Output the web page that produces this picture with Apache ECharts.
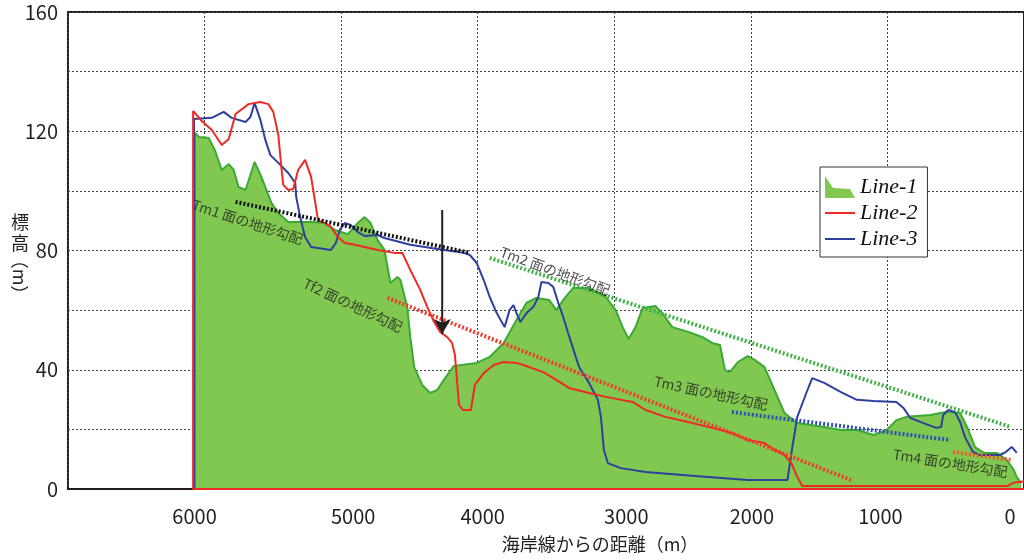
<!DOCTYPE html>
<html><head><meta charset="utf-8">
<script src="https://cdn.jsdelivr.net/npm/echarts@6/dist/echarts.min.js"></script>
<style>html,body{margin:0;padding:0;background:#fff}#c{width:1024px;height:560px}</style>
</head><body><div id="c"></div>
<script>
// ---- data (distance from coastline in m, elevation in m) ----
const xTicks = [6000, 5000, 4000, 3000, 2000, 1000, 0];
const yTicks = [0, 40, 80, 120, 160];
const seriesNames = ['Line-1', 'Line-2', 'Line-3'];

const line1 = [[6070,0],[6070,119.4],[6041,118.1],[5969,117.7],[5925,113.7],[5874,107.0],[5823,109.0],[5787,107.0],[5751,101.3],[5700,100.3],[5634,109.7],[5584,104.7],[5510,95.9],[5460,92.6],[5387,89.6],[5220,89.6],[5119,89.2],[5046,86.9],[4951,85.5],[4879,89.2],[4828,91.2],[4784,89.2],[4733,83.5],[4683,80.2],[4639,69.1],[4588,71.1],[4566,70.1],[4516,61.1],[4494,51.0],[4465,40.9],[4406,34.9],[4348,32.2],[4297,33.2],[4239,37.2],[4174,41.3],[4007,42.3],[3912,44.3],[3810,49.0],[3716,56.7],[3643,62.4],[3571,64.1],[3476,63.4],[3425,60.0],[3374,63.4],[3302,67.4],[3185,67.4],[3062,64.4],[2990,60.0],[2939,54.3],[2895,50.3],[2844,54.3],[2793,60.7],[2699,61.4],[2648,59.0],[2575,54.3],[2459,52.7],[2357,51.0],[2284,49.0],[2226,48.3],[2190,39.9],[2154,39.2],[2095,42.6],[2023,44.6],[1972,43.3],[1900,40.9],[1827,33.2],[1754,25.5],[1660,22.1],[1463,20.8],[1340,19.8],[1224,19.8],[1100,18.1],[1006,19.8],[934,23.1],[861,24.2],[687,24.8],[570,25.8],[468,25.5],[417,20.8],[359,14.1],[294,12.1],[199,12.1],[126,9.7],[75,6.4],[53,4.0],[20,2.0]];

const line2 = [[0,0],[6084,0],[6084,126.8],[6020,123.4],[5947,120.4],[5874,115.4],[5823,117.4],[5773,125.8],[5678,129.1],[5591,129.8],[5533,129.1],[5497,126.5],[5460,118.8],[5438,108.0],[5424,102.0],[5387,100.3],[5351,100.6],[5315,107.0],[5264,110.4],[5220,104.7],[5169,90.2],[5119,89.2],[5075,87.9],[5024,84.5],[4973,82.5],[4900,81.9],[4733,80.2],[4610,79.2],[4552,79.2],[4494,73.5],[4421,66.8],[4370,61.1],[4319,56.0],[4275,52.7],[4225,51.0],[4188,49.0],[4167,45.0],[4152,36.6],[4137,28.2],[4108,26.5],[4050,26.5],[4021,34.9],[3956,38.9],[3883,41.6],[3810,42.6],[3716,42.3],[3622,40.9],[3520,39.2],[3425,36.6],[3331,33.9],[3185,32.2],[3062,30.9],[2866,29.2],[2771,26.5],[2626,24.2],[2459,22.5],[2284,20.5],[2139,18.8],[2023,16.4],[1900,15.4],[1827,13.1],[1754,11.4],[1703,8.7],[1660,4.0],[1623,1.0],[119,1.0],[83,2.0],[53,2.3],[0,2.5]];

const line3 = [[6077,0],[6077,124.1],[5947,124.5],[5860,126.5],[5802,124.5],[5700,123.1],[5664,124.8],[5634,129.5],[5591,123.8],[5555,117.1],[5518,112.0],[5460,109.4],[5387,106.0],[5336,102.7],[5329,98.0],[5300,91.2],[5264,84.5],[5220,81.2],[5075,80.2],[5039,82.5],[5010,86.9],[4973,89.2],[4930,88.6],[4879,86.2],[4828,84.9],[4733,85.2],[4683,84.2],[4494,81.9],[4247,80.2],[4101,79.2],[4058,78.5],[4007,75.8],[3956,70.1],[3912,64.4],[3861,59.0],[3803,54.3],[3767,60.0],[3738,61.7],[3716,59.0],[3687,56.0],[3643,59.0],[3592,61.1],[3556,64.4],[3534,69.4],[3483,69.1],[3447,67.8],[3410,62.4],[3374,57.7],[3338,52.3],[3258,40.9],[3185,35.6],[3120,29.9],[3098,24.2],[3076,13.1],[3047,8.7],[2952,7.0],[2771,5.7],[2408,4.4],[2023,3.0],[1732,3.0],[1696,14.1],[1660,24.2],[1594,32.2],[1551,37.2],[1463,35.6],[1340,32.5],[1224,29.9],[1100,29.5],[934,29.2],[883,27.2],[832,23.8],[760,22.5],[643,20.5],[607,20.8],[592,24.8],[555,26.5],[505,25.8],[468,22.5],[432,17.4],[374,12.4],[323,11.4],[177,11.4],[134,12.4],[90,14.1],[53,12.1]];

// slope (gradient) guide lines
const tm1Line = [[5773,96.3],[4058,79.2]];
const tm2Line = [[3912,77.5],[96,20.8]];
const tf2Line = [[4660,64.1],[1267,3.0]];
const tm3Line = [[2139,25.8],[540,16.4]];
const tm4Line = [[519,12.4],[83,9.7]];
const arrowLine = [[4260,93.6],[4260,52.0]];

// annotation labels
const noteTexts = ['Tm1 面の地形勾配','Tm2 面の地形勾配','Tf2 面の地形勾配','Tm3 面の地形勾配','Tm4 面の地形勾配'];
const notePoints = [[5685,89.6],[3433,73.1],[4915,61.7],[2292,32.2],[540,8.7]];

// ---- styles ----
const FONT = '"Noto Sans CJK JP","Noto Sans",sans-serif';
const INK = '#231f20';
const noteRotate = [-18, -20, -25, -12, -9];
const xLabelShift = {6000:-10, 5000:12, 4000:5, 3000:12, 2000:1, 1000:-7, 0:-14};

const rich = {};
xTicks.forEach(v => {
  const s = xLabelShift[v] || 0;
  rich['t' + v] = {
    fontSize: 20, fontFamily: FONT, color: INK,
    padding: s >= 0 ? [0, 0, 0, 2 * s] : [0, -2 * s, 0, 0]
  };
});

function guide(data, color) {
  return {
    type: 'line', data: data, symbol: 'none', silent: true, z: 4,
    lineStyle: { color: color, width: 4, type: [2, 2] }
  };
}

const chart = echarts.init(document.getElementById('c'), null, { renderer: 'canvas' });
chart.setOption({
  animation: false,
  backgroundColor: '#fff',
  grid: { left: 68, top: 12, right: -7, bottom: 71, show: true, borderColor: INK, borderWidth: 2, backgroundColor: 'transparent' },
  xAxis: {
    type: 'value', min: 0, max: 7000, interval: 1000, inverse: true,
    axisLine: { show: true, lineStyle: { color: INK, width: 2 } },
    axisTick: { show: false },
    splitLine: { show: true, lineStyle: { color: '#444', width: 1, type: [2, 2] } },
    axisLabel: {
      margin: 17,
      formatter: v => xTicks.indexOf(v) >= 0 ? '{t' + v + '|' + v + '}' : '',
      rich: rich
    }
  },
  yAxis: {
    type: 'value', min: 0, max: 160, interval: 20,
    axisLine: { show: true, lineStyle: { color: INK, width: 2 } },
    axisTick: { show: false },
    splitLine: { show: true, lineStyle: { color: '#444', width: 1, type: [2, 2] } },
    axisLabel: {
      margin: 10, fontSize: 20, fontFamily: FONT, color: INK,
      formatter: v => yTicks.indexOf(v) >= 0 ? String(v) : ''
    }
  },
  legend: {
    orient: 'vertical', left: 820, top: 167,
    padding: [9, 10, 7, 5], itemGap: 4, itemWidth: 30, itemHeight: 22,
    backgroundColor: '#fff', borderColor: '#333', borderWidth: 1,
    textStyle: { fontFamily: '"Liberation Serif",serif', fontStyle: 'italic', fontSize: 22, color: '#111' },
    itemStyle: { borderWidth: 0 },
    data: [
      { name: seriesNames[0], icon: 'path://M0,0 L8,12 L25,13 L30,22 L0,22 Z', itemStyle: { color: '#80c850' } },
      { name: seriesNames[1], icon: 'path://M0,0 L0,0.05 M0,10 L30,10 L30,12 L0,12 Z M30,22 L30,21.95' },
      { name: seriesNames[2], icon: 'path://M0,0 L0,0.05 M0,10 L30,10 L30,12 L0,12 Z M30,22 L30,21.95' }
    ]
  },
  graphic: [
    { type: 'text', x: 20, y: 212, style: { text: '標\n高', fontSize: 18, fontFamily: FONT, fill: INK, align: 'center', verticalAlign: 'top', lineHeight: 21 } },
    { type: 'text', x: 20, y: 277, rotation: -Math.PI / 2, style: { text: '（m）', fontSize: 18, fontFamily: FONT, fill: INK, align: 'center', verticalAlign: 'middle' } },
    { type: 'text', x: 600, y: 544, style: { text: '海岸線からの距離（m）', fontSize: 18, fontFamily: FONT, fill: INK, align: 'center', verticalAlign: 'middle' } }
  ],
  series: [
    {
      name: seriesNames[0], type: 'line', data: line1, symbol: 'none', z: 2,
      color: '#80c850',
      lineStyle: { color: '#3aaa35', width: 2 },
      areaStyle: { color: '#80c850', opacity: 1 }
    },
    {
      name: seriesNames[2], type: 'line', data: line3, symbol: 'none', z: 3,
      color: '#2e3f9e', lineStyle: { color: '#2e3f9e', width: 2 }
    },
    {
      name: seriesNames[1], type: 'line', data: line2, symbol: 'none', z: 3,
      color: '#ee2a24', lineStyle: { color: '#ee2a24', width: 2 }
    },
    guide(tm1Line, '#111111'),
    guide(tm2Line, '#44b04a'),
    guide(tf2Line, '#ef3b2c'),
    guide(tm3Line, '#2f4fb5'),
    guide(tm4Line, '#f15a29'),
    {
      type: 'line', silent: true, z: 5, showSymbol: true,
      lineStyle: { color: INK, width: 2 },
      itemStyle: { color: INK, borderWidth: 0 },
      data: [
        { value: arrowLine[0], symbol: 'none' },
        { value: arrowLine[1], symbol: 'arrow', symbolRotate: 180, symbolSize: [13, 15] }
      ]
    },
    {
      type: 'scatter', silent: true, z: 6, symbolSize: 0,
      data: notePoints.map((p, i) => ({
        value: p,
        label: {
          show: true, position: 'inside', formatter: noteTexts[i], rotate: noteRotate[i],
          fontSize: 14, fontFamily: FONT, color: INK, align: 'center', verticalAlign: 'middle'
        }
      }))
    }
  ]
});
</script></body></html>
